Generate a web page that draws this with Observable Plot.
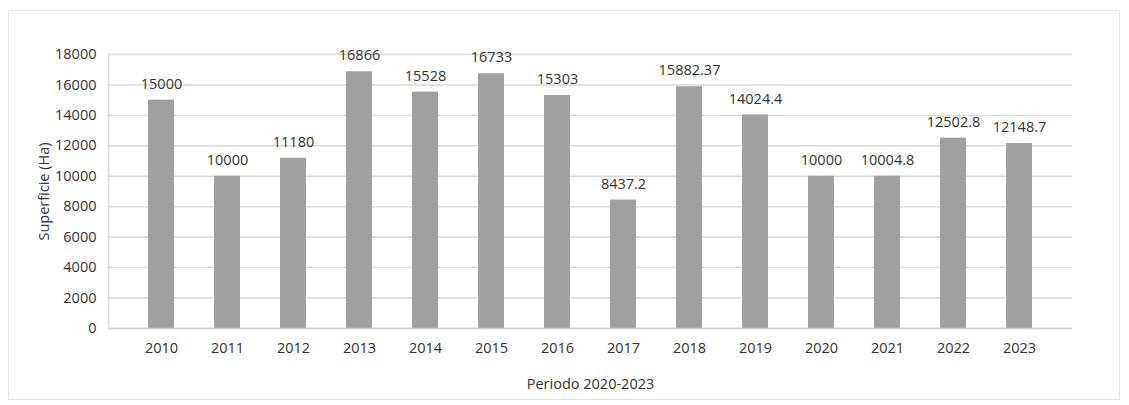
<!DOCTYPE html>
<html>
<head>
<meta charset="utf-8">
<script src="https://cdn.jsdelivr.net/npm/d3@7"></script>
<script src="https://cdn.jsdelivr.net/npm/@observablehq/plot@0.6"></script>
<style>
  html, body { margin: 0; padding: 0; background: #fff; }
  #wrap { position: relative; width: 1129px; height: 405px; }
  #border { position: absolute; left: 8px; top: 10px; width: 1112px; height: 390px; border: 1px solid #e2e2e2; box-sizing: border-box; pointer-events: none; }
</style>
</head>
<body>
<div id="wrap"><div id="border"></div></div>
<script>
const years = ["2010","2011","2012","2013","2014","2015","2016","2017","2018","2019","2020","2021","2022","2023"];
const values = [15000, 10000, 11180, 16866, 15528, 16733, 15303, 8437.2, 15882.37, 14024.4, 10000, 10004.8, 12502.8, 12148.7];
const labels = ["15000","10000","11180","16866","15528","16733","15303","8437.2","15882.37","14024.4","10000","10004.8","12502.8","12148.7"];
const yTicks = [0,2000,4000,6000,8000,10000,12000,14000,16000,18000];

const data = years.map((y, i) => ({year: y, value: values[i], label: labels[i]}));

const chart = Plot.plot({
  width: 1129,
  height: 405,
  marginLeft: 108,
  marginRight: 57,
  marginTop: 54,
  marginBottom: 77,
  style: { fontFamily: "'Open Sans', sans-serif", fontSize: "14px", color: "#333333", background: "transparent" },
  x: { domain: years, padding: 0.6 },
  y: { domain: [0, 18000] },
  marks: [
    Plot.ruleY(yTicks, {stroke: "#d9d9d9", strokeWidth: 1.5}),
    Plot.barY(data, {x: "year", y: "value", fill: "#a0a0a0"}),
    Plot.text(data, {x: "year", y: "value", text: "label", dy: -16, fill: "#333333", fontSize: 14.5}),
    Plot.axisY({ticks: yTicks, tickFormat: d3.format("d"), tickSize: 0, tickPadding: 12, fontSize: 14.5, label: "Superficie (Ha)", labelAnchor: "center", labelOffset: 70, labelArrow: "none"}),
    Plot.axisX({tickSize: 0, tickPadding: 14, fontSize: 14.5, label: "Periodo 2020-2023", labelAnchor: "center", labelOffset: 60, labelArrow: "none"}),
    Plot.ruleY([0], {stroke: "#cfcfcf", strokeWidth: 1.5}),
    Plot.frame({anchor: "left", stroke: "#dcdcdc", strokeWidth: 1.5})
  ]
});
document.getElementById("wrap").appendChild(chart);
</script>
</body>
</html>
